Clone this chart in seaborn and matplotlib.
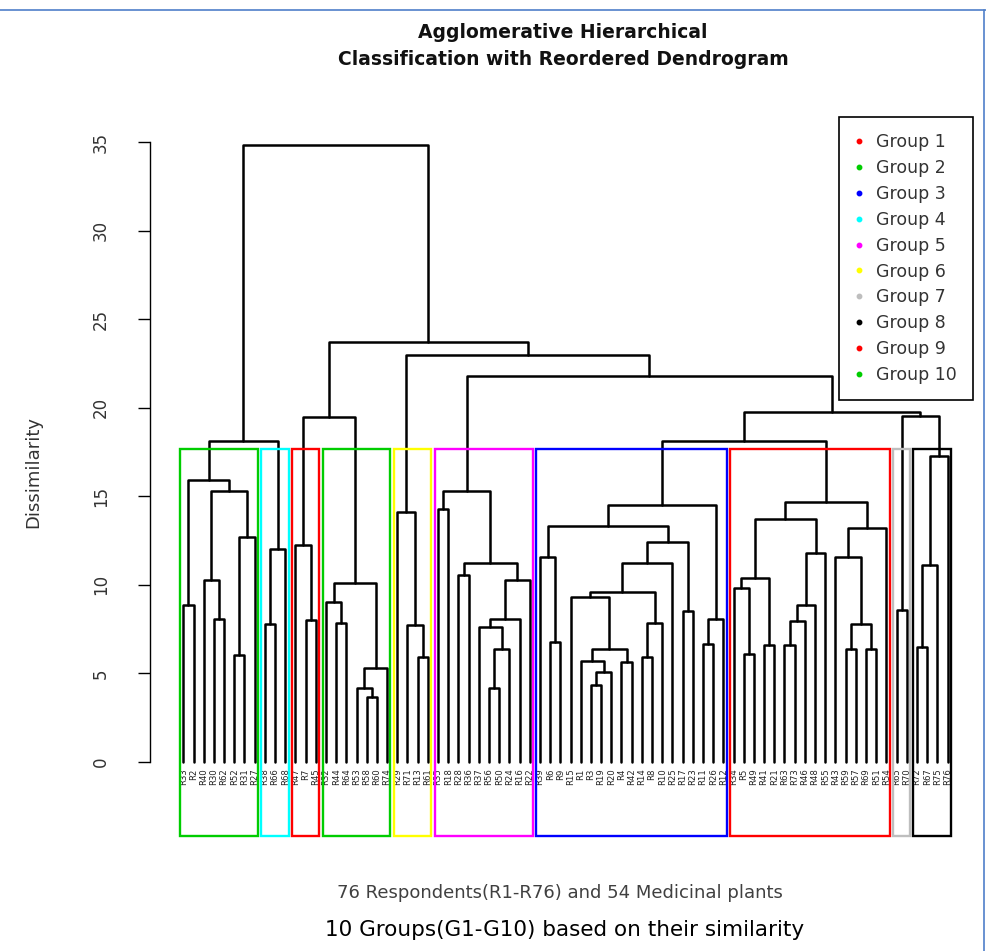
import numpy as np
import pandas as pd
import matplotlib
matplotlib.use("Agg")
import matplotlib.pyplot as plt
import seaborn as sns
from matplotlib.patches import Rectangle
from matplotlib.lines import Line2D

# ---------------- data ----------------
leaf_labels = ["R33", "R2", "R40", "R30", "R62", "R52", "R31", "R27", "R38", "R66",
               "R68", "R47", "R7", "R45", "R32", "R44", "R64", "R53", "R58", "R60",
               "R74", "R29", "R71", "R13", "R61", "R35", "R18", "R28", "R36", "R37",
               "R56", "R50", "R24", "R16", "R22", "R39", "R6", "R9", "R15", "R1",
               "R3", "R19", "R20", "R4", "R42", "R14", "R8", "R10", "R25", "R17",
               "R23", "R11", "R26", "R12", "R34", "R5", "R49", "R41", "R21", "R63",
               "R73", "R46", "R48", "R55", "R43", "R59", "R57", "R69", "R51", "R54",
               "R65", "R70", "R72", "R67", "R75", "R76"]

# R-style merge table: negative = leaf (1-based, in display order), positive = earlier merge step
merge_left = [-1, -4, -3, -6, 4, 3, 1, -9, 8, 7,
              -13, -12, -16, -15, -19, -18, 16, 14, 12, -24,
              -23, -22, -26, -28, -31, 25, -30, 27, 28, 24,
              23, -37, -36, -41, 34, -40, -44, 36, -39, -46,
              40, 39, 42, -50, 43, 33, -52, 47, 46, -56,
              -55, -58, 51, -60, 54, 55, 56, 53, -66, -68,
              59, -65, 62, 58, -71, -73, 66, 67, 65, 49,
              70, 31, 22, 19, 10]
merge_right = [-2, -5, 2, -7, -8, 5, 6, -10, -11, 9,
               -14, 11, -17, 13, -20, 15, -21, 17, 18, -25,
               20, 21, -27, -29, -32, -33, 26, -34, -35, 29,
               30, -38, 32, -42, -43, 35, -45, 37, 38, -47,
               -48, 41, -49, -51, 44, 45, -53, -54, 48, -57,
               50, -59, 52, -61, -62, -63, -64, 57, -67, -69,
               60, 61, -70, 63, -72, -74, -75, -76, 68, 64,
               69, 71, 72, 73, 74]
merge_height = [8.87, 8.1, 10.3, 6.04, 12.7, 15.3, 15.9, 7.8, 12.05, 18.1,
                8.0, 12.25, 7.83, 9.05, 3.69, 4.16, 5.29, 10.08, 19.5, 5.95,
                7.74, 14.1, 14.3, 10.56, 4.16, 6.40, 7.64, 8.1, 10.3, 11.26,
                15.3, 6.8, 11.6, 4.35, 5.1, 5.72, 5.66, 6.4, 9.34, 5.95,
                7.83, 9.6, 11.26, 8.5, 12.44, 13.3, 6.66, 8.1, 14.5, 6.08,
                9.84, 6.6, 10.37, 6.6, 7.96, 8.87, 11.78, 13.7, 6.4, 6.4,
                7.8, 11.6, 13.2, 14.7, 8.58, 6.47, 11.1, 17.3, 19.55, 18.1,
                19.75, 21.8, 23.0, 23.7, 34.85]

n_groups = 10
box_colors = ["#00CD00", "#00FFFF", "#FF0000", "#00CD00", "#FFFF00",
              "#FF00FF", "#0000FF", "#FF0000", "#BEBEBE", "#000000"]
legend_labels = ["Group 1", "Group 2", "Group 3", "Group 4", "Group 5",
                 "Group 6", "Group 7", "Group 8", "Group 9", "Group 10"]
legend_colors = ["#FF0000", "#00CD00", "#0000FF", "#00FFFF", "#FF00FF",
                 "#FFFF00", "#BEBEBE", "#000000", "#FF0000", "#00CD00"]
yticks = [0, 5, 10, 15, 20, 25, 30, 35]

title_text = "Agglomerative Hierarchical\nClassification with Reordered Dendrogram"
ylabel_text = "Dissimilarity"
sub_text = "76 Respondents(R1-R76) and 54 Medicinal plants"
xlab_text = "10 Groups(G1-G10) based on their similarity"

# ---------------- geometry from the tree ----------------
n_merge = len(merge_height)
node_x = {}


def cx(c):
    return (-c - 1) if c < 0 else node_x[c]


def ch(c):
    return 0.0 if c < 0 else merge_height[c - 1]


rows = []
for i in range(n_merge):
    step = i + 1
    l, r, h = merge_left[i], merge_right[i], merge_height[i]
    xl, xr = cx(l), cx(r)
    node_x[step] = (xl + xr) / 2.0
    for px, py in [(xl, ch(l)), (xl, h), (xr, h), (xr, ch(r))]:
        rows.append({"link": step, "x": px, "y": py})
df = pd.DataFrame(rows)

# cut height like R's rect.hclust
hs = sorted(merge_height, reverse=True)
cut_h = (hs[n_groups - 2] + hs[n_groups - 1]) / 2.0


def leaves(c):
    if c < 0:
        return [-c - 1]
    return leaves(merge_left[c - 1]) + leaves(merge_right[c - 1])


def cut(c):
    if c < 0 or merge_height[c - 1] < cut_h:
        return [c]
    return cut(merge_left[c - 1]) + cut(merge_right[c - 1])


clusters = [leaves(c) for c in cut(n_merge)]
clusters.sort(key=min)

# ---------------- plotting ----------------
sns.set_theme(style="white")
plt.rcParams["font.family"] = ["DejaVu Sans"]

W, H = 986, 951
fig = plt.figure(figsize=(W / 100, H / 100), dpi=100)
ax = fig.add_axes([150 / W, 1 - 836 / H, 823 / W, 719 / H])

sns.lineplot(data=df, x="x", y="y", units="link", estimator=None, sort=False,
             color="black", linewidth=1.8, ax=ax, legend=False)

ax.set_xlim(-3.27, 77.5)
ax.set_ylim(-4.18, 36.42)
ax.set_xlabel("")
ax.set_ylabel("")
for s in ["top", "right", "bottom"]:
    ax.spines[s].set_visible(False)
ax.spines["left"].set_bounds(0, 35)
ax.spines["left"].set_color("black")
ax.spines["left"].set_linewidth(1.0)
ax.set_xticks([])
ax.set_yticks(yticks)
ax.set_yticklabels([str(t) for t in yticks])
ax.tick_params(axis="y", left=True, length=9, width=1.0, pad=20, labelsize=12,
               labelrotation=90, color="black", labelcolor="#333333")
for lbl in ax.get_yticklabels():
    lbl.set_va("center")

for i, lab in enumerate(leaf_labels):
    ax.text(i, -0.35, lab, rotation=90, ha="center", va="top", fontsize=6.1,
            color="#222222")

y0 = ax.get_ylim()[0]
for members, col in zip(clusters, box_colors):
    left = min(members) - 0.34
    right = max(members) + 0.33
    ax.add_patch(Rectangle((left, y0), right - left, cut_h - y0, fill=False,
                           edgecolor=col, linewidth=1.7, clip_on=False, zorder=5))

handles = [Line2D([0], [0], marker="o", linestyle="none", markersize=3.2,
                  markerfacecolor=c, markeredgecolor=c) for c in legend_colors]
leg = ax.legend(handles, legend_labels, loc="upper right", bbox_to_anchor=(1.0, 1.0),
                frameon=True, fancybox=False, framealpha=1, edgecolor="black",
                fontsize=12.5, labelspacing=0.45, borderpad=0.95, handlelength=0.35,
                handletextpad=0.8, borderaxespad=0)
leg.get_frame().set_linewidth(1.2)
for t in leg.get_texts():
    t.set_color("#333333")

fig.text(563 / W, 1 - 46 / H, title_text, ha="center", va="center", fontsize=13.5,
         fontweight="bold", linespacing=1.55, color="#111111")
fig.text(33 / W, 1 - 472 / H, ylabel_text, rotation=90, ha="center", va="center",
         fontsize=13, color="#333333")
fig.text(560 / W, 1 - 893 / H, sub_text, ha="center", va="center", fontsize=13,
         color="#404040")
fig.text(565 / W, 1 - 930 / H, xlab_text, ha="center", va="center", fontsize=15.5,
         color="black")

border = "#4F7FC9"
fig.add_artist(Line2D([0, 1], [1 - 10 / H, 1 - 10 / H], transform=fig.transFigure,
                      color=border, linewidth=1.2))
fig.add_artist(Line2D([1 - 2 / W, 1 - 2 / W], [0, 1 - 10 / H], transform=fig.transFigure,
                      color=border, linewidth=1.2))

fig.savefig("out.png", dpi=100)
